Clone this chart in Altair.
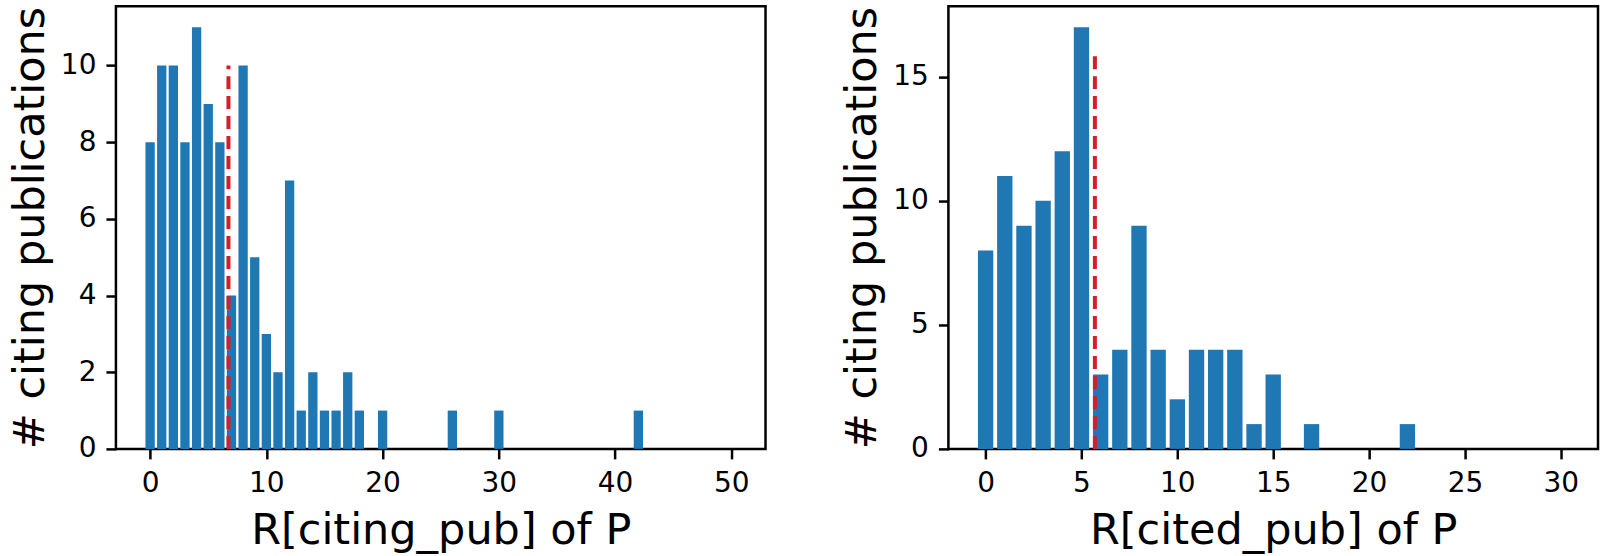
import altair as alt
import pandas as pd

# Left panel: R[citing_pub] of P
left_x = [0, 1, 2, 3, 4, 5, 6, 7, 8, 9, 10, 11, 12, 13, 14, 15, 16, 17, 18, 20, 26, 30, 42]
left_counts = [8, 10, 10, 8, 11, 9, 8, 4, 10, 5, 3, 2, 7, 1, 2, 1, 1, 2, 1, 1, 1, 1, 1]
left_mean = 6.74
left_mean_top = 10
left_xticks = [0, 10, 20, 30, 40, 50]
left_yticks = [0, 2, 4, 6, 8, 10]

# Right panel: R[cited_pub] of P
right_x = [0, 1, 2, 3, 4, 5, 6, 7, 8, 9, 10, 11, 12, 13, 14, 15, 17, 22]
right_counts = [8, 11, 9, 10, 12, 17, 3, 4, 9, 4, 2, 4, 4, 4, 1, 3, 1, 1]
right_mean = 5.7
right_mean_top = 16
right_xticks = [0, 5, 10, 15, 20, 25, 30]
right_yticks = [0, 5, 10, 15]

BLUE = "#1f77b4"
RED = "#d0202a"
FONT = "DejaVu Sans"


def panel(xs, counts, mean, top, xdom, ydom, xticks, yticks, xtitle):
    df = pd.DataFrame({"x": xs, "n": counts})
    xscale = alt.Scale(domain=xdom, nice=False, zero=False)
    yscale = alt.Scale(domain=ydom, nice=False)
    xaxis = alt.Axis(values=xticks, title=xtitle, grid=False, domain=False,
                     tickSize=10, tickWidth=2.5, tickColor="black",
                     labelFontSize=28, labelFont=FONT, labelColor="black",
                     labelPadding=11, titleFontSize=43, titleFont=FONT,
                     titleFontWeight="normal", titleColor="black", titlePadding=12,
                     labelFlush=False, format="d")
    yaxis = alt.Axis(values=yticks, title="# citing publications", grid=False, domain=False,
                     tickSize=10, tickWidth=2.5, tickColor="black",
                     labelFontSize=28, labelFont=FONT, labelColor="black",
                     labelPadding=10, titleFontSize=43, titleFont=FONT,
                     titleFontWeight="normal", titleColor="black", titlePadding=8,
                     labelFlush=False, format="d")
    bars = alt.Chart(df).transform_calculate(
        x0="datum.x - 0.4", x1="datum.x + 0.4", z="0"
    ).mark_bar(color=BLUE, clip=True).encode(
        x=alt.X("x0:Q", scale=xscale, axis=xaxis),
        x2="x1:Q",
        y=alt.Y("n:Q", scale=yscale, axis=yaxis),
        y2="z:Q",
    )
    mdf = pd.DataFrame({"m": [mean], "lo": [0], "hi": [top]})
    rule = alt.Chart(mdf).mark_rule(color=RED, strokeWidth=4, strokeDash=[13, 7]).encode(
        x="m:Q", y="lo:Q", y2="hi:Q"
    )
    return alt.layer(bars, rule).properties(width=650, height=443)


left = panel(left_x, left_counts, left_mean, left_mean_top, [-2.94, 52.94], [0, 11.55],
             left_xticks, left_yticks, "R[citing_pub] of P")
right = panel(right_x, right_counts, right_mean, right_mean_top, [-1.94, 31.94], [0, 17.85],
              right_xticks, right_yticks, "R[cited_pub] of P")

chart = alt.hconcat(left, right, spacing=73).properties(
    padding={"left": 8, "top": 4, "right": 0, "bottom": 0},
    background="white",
).configure_view(stroke="black", strokeWidth=2.5)

chart.save("out.html", embed_options={"renderer": "svg", "actions": False})
